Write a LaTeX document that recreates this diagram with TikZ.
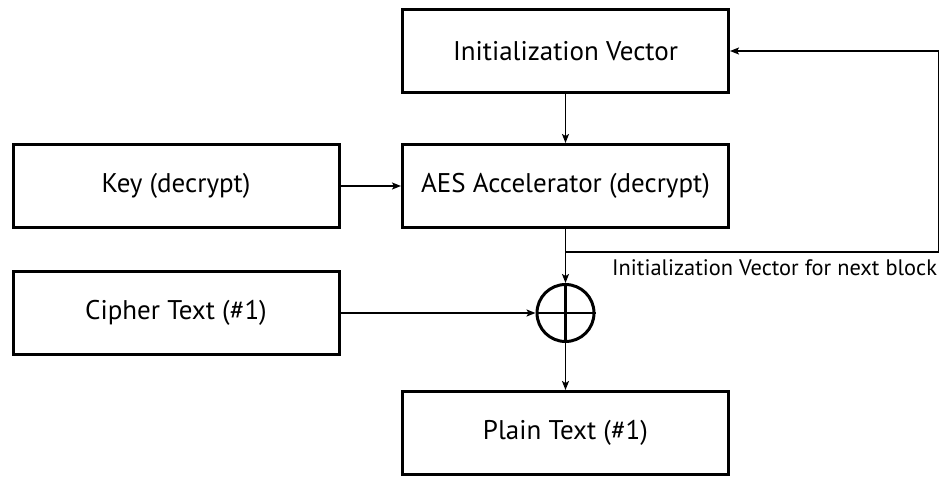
\documentclass[tikz,border=0pt]{standalone}
\usepackage{fontspec}
\setmainfont{PT Sans}
\usetikzlibrary{arrows.meta,calc}
\begin{document}
\begin{tikzpicture}[x=1pt,y=-1pt,
  box/.style={draw, line width=3pt, minimum width=326pt, minimum height=83pt, inner sep=0pt,
    font=\fontsize{27}{31}\selectfont},
  xorc/.style={draw, circle, line width=3pt, minimum size=57pt, inner sep=0pt},
  conn/.style={line width=1.5pt, -{Stealth[length=9pt,width=7pt,inset=2pt]}},
  lbl/.style={font=\fontsize{22.4}{26}\selectfont, inner sep=0pt}
]
\useasboundingbox (0,0) rectangle (940,477);
\node[box] (iv) at (565.5,51) {Initialization Vector};
\node[box] (key) at (176,186) {Key (decrypt)};
\node[box] (aes) at (565.5,186) {AES Accelerator (decrypt)};
\node[box] (ciph) at (176,313) {Cipher Text (\#1)};
\node[box] (plain) at (565.5,433) {Plain Text (\#1)};
\node[xorc] (xor) at (565.5,313) {};
\draw[line width=2.5pt] (xor.north) -- (xor.south) (xor.west) -- (xor.east);
\draw[conn] (iv) -- (aes);
\draw[conn] (key) -- (aes);
\draw[conn] (aes.south) -- (xor.north);
\draw[conn] (ciph.east) -- (xor.west);
\draw[conn] (xor.south) -- (plain.north);
\coordinate (fbL) at (565.5,252);
\coordinate (fbR) at (938.5,252);
\draw[conn] (fbL) -- (fbR) |- (iv.east);
\node[lbl, anchor=base west] (fbt) at (612,275) {Initialization Vector for next block};
\end{tikzpicture}
\end{document}
